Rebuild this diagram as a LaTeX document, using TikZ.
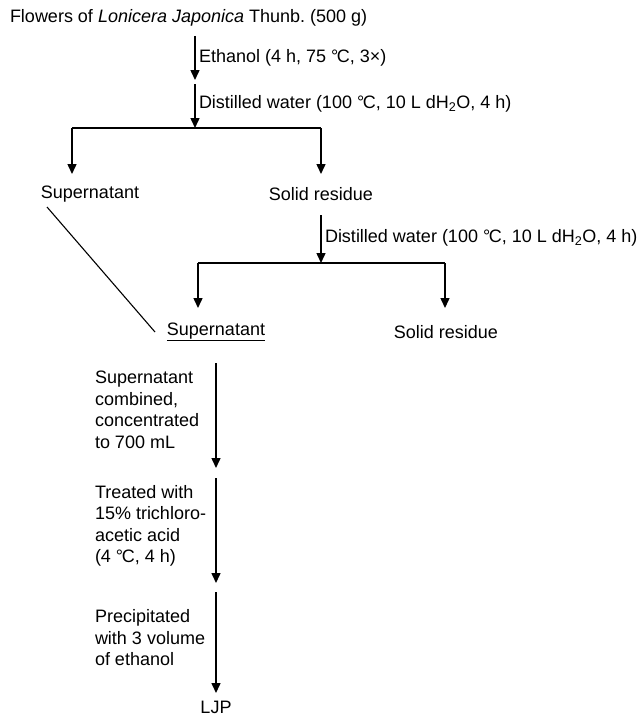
\documentclass[tikz,border=0pt]{standalone}
\usepackage{fontspec}
\setmainfont{Liberation Sans}
\usetikzlibrary{arrows.meta}
\newcommand{\degC}{°\kern-0.08em C}
\frenchspacing
\begin{document}
\begin{tikzpicture}[x=1pt,y=-1pt,
  every node/.style={inner sep=0pt,outer sep=0pt,font=\fontsize{18}{21.5}\selectfont},
  flow/.style={line width=1.5pt,-{Triangle[length=10pt,width=9pt]}},
  link/.style={line width=1.5pt},
  thin/.style={line width=1.1pt},
  lbl/.style={anchor=west},
  blk/.style={anchor=west,align=left}]
\useasboundingbox (0,0) rectangle (640,717);

% nodes
\node[anchor=west] (top) at (10,18) {Flowers of \textit{Lonicera Japonica} Thunb. (500 g)};
\coordinate (a1s) at (195,36);
\coordinate (a1e) at (195,80);
\coordinate (a2s) at (195,84);
\coordinate (j1) at (195,128);
\coordinate (j1l) at (72,128);
\coordinate (j1r) at (321,128);
\coordinate (t1l) at (72,174);
\coordinate (t1r) at (321,174);
\node (sup1) at (90,194) {Supernatant};
\node (sol1) at (321,194) {Solid residue};
\coordinate (a3s) at (321,215);
\coordinate (j2) at (321,263);
\coordinate (j2l) at (198,263);
\coordinate (j2r) at (445,263);
\coordinate (t2l) at (198,308);
\coordinate (t2r) at (445,308);
\node (sup2) at (216,332) {\underline{Supernatant}};
\node (sol2) at (446,332) {Solid residue};
\coordinate (d1) at (47,207);
\coordinate (d2) at (155,332);
\coordinate (b1s) at (216,363);
\coordinate (b1e) at (216,468);
\coordinate (b2s) at (216,478);
\coordinate (b2e) at (216,583);
\coordinate (b3s) at (216,592);
\coordinate (b3e) at (216,693);
\node (ljp) at (216,707) {LJP};

% connectors
\draw[flow] (a1s) -- (a1e);
\draw[flow] (a2s) -- (j1);
\draw[link] (j1l) -- (j1r);
\draw[flow] (j1l) -- (t1l);
\draw[flow] (j1r) -- (t1r);
\draw[flow] (a3s) -- (j2);
\draw[link] (j2l) -- (j2r);
\draw[flow] (j2l) -- (t2l);
\draw[flow] (j2r) -- (t2r);
\draw[thin] (d1) -- (d2);
\draw[flow] (b1s) -- (b1e);
\draw[flow] (b2s) -- (b2e);
\draw[flow] (b3s) -- (b3e);

% labels
\node[lbl] (l1) at (199,58) {Ethanol (4 h, 75 \degC, 3×)};
\node[lbl] (l2) at (199,104) {Distilled water (100 \degC, 10 L dH\textsubscript{2}O, 4 h)};
\node[lbl] (l3) at (325,238) {Distilled water (100 \degC, 10 L dH\textsubscript{2}O, 4 h)};
\node[blk] (s1) at (95,410) {Supernatant\\combined,\\concentrated\\to 700 mL};
\node[blk] (s2) at (95,526) {Treated with\\15\% trichloro-\\acetic acid\\(4 \degC, 4 h)};
\node[blk] (s3) at (95,638) {Precipitated\\with 3 volume\\of ethanol};
\end{tikzpicture}
\end{document}
